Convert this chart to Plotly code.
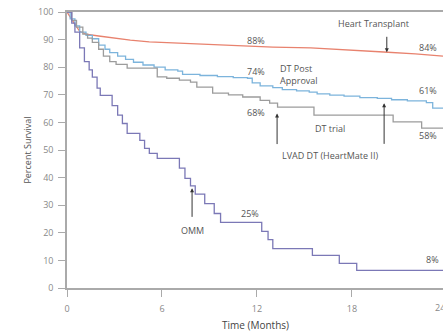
import plotly.graph_objects as go

# ---- data (months, percent survival) ----
ht_months = [0, 0.2, 0.5, 0.8, 1.2, 2.0, 3.0, 4.0, 5.2, 7.0, 10.0, 13.0, 15.4, 18.0, 20.0, 22.0, 23.75]
ht_surv   = [100, 98, 95.5, 93, 92, 91.3, 90.5, 89.8, 89.2, 88.7, 88.0, 87.3, 87.0, 86.3, 85.5, 84.8, 84.0]

dtpa_months = [0, 0.2, 0.5, 0.8, 1.2, 1.6, 2.0, 2.4, 2.7, 3.2, 3.7, 4.2, 4.8, 5.5, 6.2, 7.0, 7.3, 8.4,
               9.5, 10.5, 11.4, 11.7, 12.2, 13.0, 13.6, 14.5, 15.3, 15.8, 16.6, 17.5, 18.5, 19.6,
               20.5, 21.5, 22.7, 23.1, 23.75]
dtpa_surv   = [100, 97.5, 95, 92.7, 91.5, 90.3, 88, 86.5, 85.3, 84, 82.8, 81.8, 80.8, 80, 79, 78.6, 77.4, 77,
               76.6, 76.2, 76.0, 74.3, 73.2, 72.6, 71.9, 71.4, 71.0, 70.3, 69.9, 69.5, 69.0, 68.7,
               68.2, 67.8, 67.2, 65.2, 65.2]

dtt_months = [0, 0.3, 0.6, 1.0, 1.3, 1.6, 2.0, 2.3, 2.7, 3.1, 3.8, 5.7, 6.3, 7.1, 7.8, 8.2, 9.2,
              10.2, 11.1, 12.2, 12.8, 13.3, 15.6, 20.6, 22.4, 23.75]
dtt_surv   = [100, 97, 94.5, 92, 90.5, 89, 86.5, 84, 82, 81, 79.7, 76.5, 76, 75.3, 74.6, 72.8, 70.6,
              70, 69.2, 68, 67, 65.5, 62.6, 60.2, 57.9, 57.9]

omm_months = [0, 0.3, 0.5, 0.8, 1.1, 1.4, 1.6, 1.9, 2.1, 2.85, 3.2, 3.5, 3.8, 4.6, 4.9, 5.2, 5.7,
              7.1, 7.45, 7.8, 8.1, 8.7, 9.3, 9.7, 10.2, 12.3, 12.7, 13.0, 13.3, 15.5, 17.2, 18.3, 23.75]
omm_surv   = [100, 96, 92.7, 87, 82, 79, 76.4, 72.4, 69.8, 66.1, 62.6, 59.6, 56, 53.5, 50.6, 48.8, 47,
              43.4, 39.7, 37, 34, 30.6, 27, 23.8, 23.8, 20.5, 17.5, 14.3, 14.3, 11.8, 8.9, 6.4, 6.4]

x_ticks = [0, 6, 12, 18]
y_ticks = [0, 10, 20, 30, 40, 50, 60, 70, 80, 90, 100]

# label texts and anchor points (month, survival)
label_text = ["Heart Transplant", "88%", "84%", "74%", "DT Post<br>Approval", "61%", "68%",
              "LVAD DT (HeartMate II)", "DT trial", "58%", "OMM", "25%", "8%"]
label_x    = [19.33, 11.94, 22.8, 11.94, 13.3, 22.8, 11.94, 16.6, 16.6, 22.8, 7.9, 11.56, 23.1]
label_y    = [95.9, 89.7, 87.2, 78.5, 77.5, 71.6, 63.7, 48.1, 57.9, 55.3, 20.9, 27.1, 10.4]
label_anchor = ["center"] * 4 + ["left"] + ["center"] * 8

# arrows: tip (month, survival), tail offset in pixels (ay)
arrow_x  = [20.2, 13.27, 20.03, 7.9]
arrow_y  = [85.4, 63.2, 66.9, 36.1]
arrow_ay = [-17, 32, 42, 30]

fig = go.Figure()
fig.add_trace(go.Scatter(x=ht_months, y=ht_surv, mode="lines",
                         line=dict(color="#e8826e", width=1.3), showlegend=False))
fig.add_trace(go.Scatter(x=dtpa_months, y=dtpa_surv, mode="lines", line_shape="hv",
                         line=dict(color="#7cb4dc", width=1.3), showlegend=False))
fig.add_trace(go.Scatter(x=dtt_months, y=dtt_surv, mode="lines", line_shape="hv",
                         line=dict(color="#9c9c9c", width=1.3), showlegend=False))
fig.add_trace(go.Scatter(x=omm_months, y=omm_surv, mode="lines", line_shape="hv",
                         line=dict(color="#7b78b6", width=1.3), showlegend=False))

font_lbl = dict(family="Open Sans", size=9, color="#555")
for t, x, y, a in zip(label_text, label_x, label_y, label_anchor):
    fig.add_annotation(x=x, y=y, text=t, showarrow=False, xanchor=a, yanchor="middle",
                       font=font_lbl, align="left")
for x, y, ay in zip(arrow_x, arrow_y, arrow_ay):
    fig.add_annotation(x=x, y=y, text="", showarrow=True, ax=0, ay=ay,
                       arrowhead=2, arrowsize=0.8, arrowwidth=1, arrowcolor="#333")

# axis titles and the clipped "24" tick label
fig.add_annotation(xref="paper", yref="paper", x=-0.130, y=0.5, text="Percent Survival",
                   textangle=-90, showarrow=False, font=dict(family="Open Sans", size=9, color="#555"))
fig.add_annotation(xref="paper", yref="paper", x=0.5, y=-0.135, text="Time (Months)",
                   showarrow=False, yanchor="middle", font=dict(family="Open Sans", size=10, color="#444"))
fig.add_annotation(xref="paper", yref="paper", x=1.0106, y=-0.07, text="24",
                   showarrow=False, yanchor="middle", font=dict(family="Open Sans", size=9, color="#888"))

axis_common = dict(showgrid=False, zeroline=False, showline=True, linecolor="#aaa", linewidth=1.5,
                   ticks="outside", ticklen=7, tickcolor="#aaa", tickwidth=1.2,
                   tickfont=dict(family="Open Sans", size=9, color="#888"))
fig.update_xaxes(range=[0, 23.75], tickvals=x_ticks, mirror=True, ticklabelstandoff=4, **axis_common)
fig.update_yaxes(range=[0, 100], tickvals=y_ticks, ticklabelstandoff=3, **axis_common)

fig.update_layout(width=443, height=336, margin=dict(l=67, r=0, t=12, b=48),
                  plot_bgcolor="white", paper_bgcolor="white")
fig.write_html("out.html", config={"displayModeBar": False},
               post_script="document.body.style.margin='0';document.body.style.overflow='hidden';")
